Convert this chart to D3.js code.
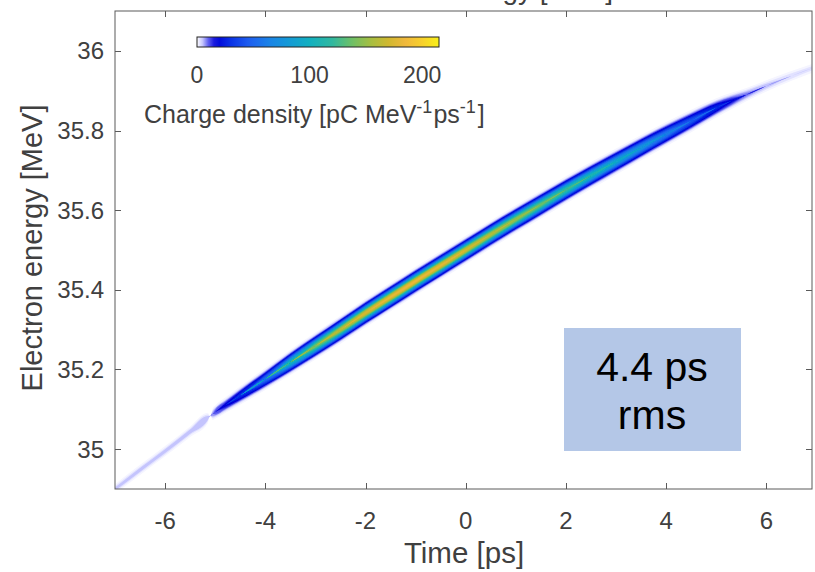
<!DOCTYPE html>
<html>
<head>
<meta charset="utf-8">
<script src="https://cdn.jsdelivr.net/npm/d3@7"></script>
<style>
  html, body { margin: 0; padding: 0; background: #fff; }
  svg { display: block; font-family: "Liberation Sans", Arial, sans-serif; }
</style>
</head>
<body>
<svg id="chart" width="815" height="572"></svg>
<script>
// Longitudinal phase space of the bunch: time [ps] vs electron energy [MeV]
const times = [-7, -6.5, -6, -5.5, -5.15, -5.1, -5.05, -5.0, -4.8, -4.5, -4, -3.5, -3, -2.5, -2, -1.5, -1, -0.5, 0, 0.5, 1, 1.5, 2, 2.5, 3, 3.5, 4, 4.5, 5, 5.3, 5.6, 6, 6.5, 7];
const centerEnergy = [34.900, 34.948, 34.995, 35.044, 35.078, 35.083, 35.088, 35.093, 35.110, 35.135, 35.176, 35.218, 35.259, 35.300, 35.342, 35.382, 35.422, 35.461, 35.500, 35.539, 35.577, 35.614, 35.651, 35.687, 35.722, 35.757, 35.791, 35.824, 35.857, 35.874, 35.890, 35.912, 35.937, 35.960];
const energySpread = [0.0064, 0.0065, 0.0066, 0.0067, 0.0068, 0.0068, 0.0070, 0.0074, 0.0080, 0.0088, 0.0097, 0.0104, 0.0108, 0.0110, 0.0111, 0.0111, 0.0111, 0.0111, 0.0111, 0.0111, 0.0111, 0.0111, 0.0110, 0.0110, 0.0109, 0.0108, 0.0106, 0.0102, 0.0094, 0.0086, 0.0078, 0.0072, 0.0068, 0.0066];
const peakDensity = [6, 6.5, 6.5, 7, 7, 0, 9, 13, 19, 30, 55, 105, 140, 162, 175, 182, 185, 180, 172, 160, 150, 138, 124, 108, 92, 78, 62, 45, 28, 18, 10, 6.5, 5, 4];

const xTicks = [-6, -4, -2, 0, 2, 4, 6];
const yTicks = [35, 35.2, 35.4, 35.6, 35.8, 36];
const cbarTicks = [0, 100, 200];

// colour map: white into blue, then parula-like through teal and green to yellow
const cmapValues = [0, 4, 10, 17, 30, 47, 65, 80, 100, 120, 137, 155, 170, 185, 200, 215];
const cmapColors = ["#ffffff", "#d8d8ff", "#6060f0", "#0000d8", "#0a32e6", "#1e60f0", "#1a84e6", "#1498d8", "#12b0c0", "#30b8a0", "#6cc068", "#a8be40", "#d0b830", "#f0b83c", "#f8d02c", "#f8f018"];

const svg = d3.select("#chart");
const axisColor = "#5a5a5a";
const textColor = "#404040";

const plot = { left: 115, right: 812, top: 11, bottom: 489 };
const x = d3.scaleLinear().domain([-7, 6.91]).range([plot.left, plot.right]);
const y = d3.scaleLinear().domain([34.9, 36.1]).range([plot.bottom, plot.top]);
const color = d3.scaleLinear().domain(cmapValues).range(cmapColors).interpolate(d3.interpolateRgb).clamp(true);

// title above the axes, mostly outside the page
svg.append("text")
  .attr("x", 613).attr("y", -1)
  .attr("text-anchor", "end")
  .attr("font-size", 28).attr("fill", textColor)
  .text("Electron energy [MeV]");

const defs = svg.append("defs");
defs.append("clipPath").attr("id", "plotClip")
  .append("rect")
  .attr("x", plot.left).attr("y", plot.top)
  .attr("width", plot.right - plot.left).attr("height", plot.bottom - plot.top);
defs.append("filter").attr("id", "soft")
  .append("feGaussianBlur").attr("stdDeviation", 0.7);

// charge density drawn as stacked filled contour levels of a gaussian energy profile
const knots = times.map((t, i) => ({ t, e: centerEnergy[i], s: energySpread[i], p: peakDensity[i] }));
const levels = d3.range(1, 190, 2);
const beam = svg.append("g").attr("clip-path", "url(#plotClip)")
  .append("g").attr("filter", "url(#soft)");

levels.forEach(L => {
  const half = d => (d.p > L ? d.s * Math.sqrt(2 * Math.log(d.p / L)) : 0);
  const area = d3.area()
    .x(d => x(d.t))
    .y0(d => y(d.e - half(d)))
    .y1(d => y(d.e + half(d)))
    .curve(d3.curveMonotoneX);
  beam.append("path")
    .attr("d", area(knots))
    .attr("fill", color(L));
});

// axes box
svg.append("rect")
  .attr("x", plot.left).attr("y", plot.top)
  .attr("width", plot.right - plot.left).attr("height", plot.bottom - plot.top)
  .attr("fill", "none").attr("stroke", axisColor).attr("stroke-width", 1);

const tickLen = 6;
const axes = svg.append("g").attr("stroke", axisColor).attr("stroke-width", 1);
xTicks.forEach(v => {
  const px = Math.round(x(v)) + 0.5;
  axes.append("line").attr("x1", px).attr("x2", px).attr("y1", plot.bottom).attr("y2", plot.bottom - tickLen);
  axes.append("line").attr("x1", px).attr("x2", px).attr("y1", plot.top).attr("y2", plot.top + tickLen);
});
yTicks.forEach(v => {
  const py = Math.round(y(v)) + 0.5;
  axes.append("line").attr("x1", plot.left).attr("x2", plot.left + tickLen).attr("y1", py).attr("y2", py);
  axes.append("line").attr("x1", plot.right).attr("x2", plot.right - tickLen).attr("y1", py).attr("y2", py);
});

svg.append("g").selectAll("text").data(xTicks).join("text")
  .attr("x", d => x(d)).attr("y", 529)
  .attr("text-anchor", "middle").attr("font-size", 24).attr("fill", textColor)
  .text(d => d);

svg.append("g").selectAll("text").data(yTicks).join("text")
  .attr("x", 104).attr("y", d => y(d) + 8.5)
  .attr("text-anchor", "end").attr("font-size", 24).attr("fill", textColor)
  .text(d => d3.format("")(d));

svg.append("text")
  .attr("x", 464).attr("y", 563)
  .attr("text-anchor", "middle").attr("font-size", 29.5).attr("fill", textColor)
  .text("Time [ps]");

svg.append("text")
  .attr("transform", "translate(42,248) rotate(-90)")
  .attr("text-anchor", "middle").attr("font-size", 29).attr("fill", textColor)
  .text("Electron energy [MeV]");

// colour bar
const cb = { x0: 197, x1: 439, y: 37, h: 10 };
const cx = d3.scaleLinear().domain([0, 215]).range([cb.x0, cb.x1]);
const grad = defs.append("linearGradient").attr("id", "cbarGrad")
  .attr("x1", "0%").attr("x2", "100%").attr("y1", "0%").attr("y2", "0%");
d3.range(0, 216, 5).forEach(v => {
  grad.append("stop").attr("offset", (v / 215 * 100) + "%").attr("stop-color", color(v));
});
svg.append("rect")
  .attr("x", cb.x0).attr("y", cb.y).attr("width", cb.x1 - cb.x0).attr("height", cb.h)
  .attr("fill", "url(#cbarGrad)").attr("stroke", "#222").attr("stroke-width", 1);

svg.append("g").selectAll("text").data(cbarTicks).join("text")
  .attr("x", d => cx(d)).attr("y", 83)
  .attr("text-anchor", "middle").attr("font-size", 23).attr("fill", textColor)
  .text(d => d);

const cbLabel = svg.append("text")
  .attr("x", 144).attr("y", 123)
  .attr("font-size", 25).attr("fill", textColor);
cbLabel.append("tspan").text("Charge density [pC MeV");
cbLabel.append("tspan").attr("font-size", 18).attr("dy", -10).text("-1");
cbLabel.append("tspan").attr("dy", 10).attr("dx", 1).text("ps");
cbLabel.append("tspan").attr("font-size", 18).attr("dy", -10).text("-1");
cbLabel.append("tspan").attr("dy", 10).attr("dx", 2).text("]");

// annotation box
svg.append("rect")
  .attr("x", 564).attr("y", 328).attr("width", 177).attr("height", 123)
  .attr("fill", "#b4c7e7");
svg.append("text")
  .attr("x", 652).attr("y", 381)
  .attr("text-anchor", "middle").attr("font-size", 41).attr("fill", "#000")
  .text("4.4 ps");
svg.append("text")
  .attr("x", 652).attr("y", 429)
  .attr("text-anchor", "middle").attr("font-size", 41).attr("fill", "#000")
  .text("rms");
</script>
</body>
</html>
